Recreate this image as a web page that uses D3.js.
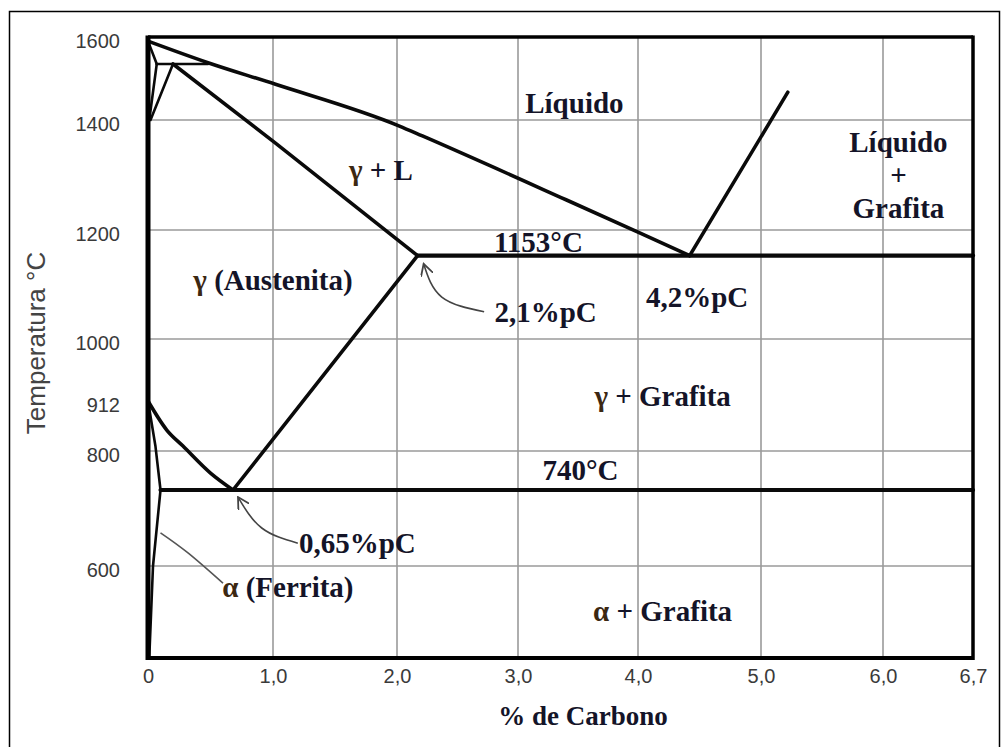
<!DOCTYPE html>
<html>
<head>
<meta charset="utf-8">
<script src="https://cdn.jsdelivr.net/npm/d3@7"></script>
<style>
  body { margin: 0; background: #fff; }
  svg { display: block; }
</style>
</head>
<body>
<div id="chart"></div>
<script>
// Eixos (o desenho original não é uniforme, por isso escalas por partes)
const xBreaks = [0, 1, 2, 3, 4, 5, 6, 6.7];
const xTickLabels = ["0", "1,0", "2,0", "3,0", "4,0", "5,0", "6,0", "6,7"];
const xGrid = [1, 2, 3, 4, 5, 6];
const yBreaks = [440, 600, 740, 800, 912, 1000, 1200, 1400, 1600];
const yTicks = [600, 800, 912, 1000, 1200, 1400, 1600];
const yGrid = [600, 800, 1000, 1200, 1400];

// Linhas do diagrama Fe-C (% C, °C)
const liquidusLeft = [[0, 1590], [0.48, 1538], [1.02, 1486], [2.02, 1389], [2.21, 1371], [3.4, 1255], [4.0, 1196], [4.42, 1153]];
const liquidusRight = [[4.42, 1153], [5.22, 1467]];
const solidusGamma = [[0.2, 1535], [1.02, 1358], [2.17, 1153]];
const peritectic = [[0.07, 1535], [0.48, 1535]];
const deltaSolidus = [[0, 1590], [0.07, 1535]];
const deltaLeft = [[0.07, 1535], [0.01, 1400]];
const deltaRight = [[0.2, 1535], [0.02, 1400]];
const eutectic = [[2.17, 1153], [6.7, 1153]];
const eutectoid = [[0.1, 740], [6.7, 740]];
const a3 = [[0, 912], [0.15, 847], [0.28, 811], [0.5, 766], [0.68, 740]];
const acm = [[0.68, 740], [2.17, 1153]];
const ferriteEdge = [[0, 912], [0.06, 810], [0.1, 740]];
const solvus = [[0.1, 740], [0.04, 600], [0.01, 440]];

// Setas de indicação
const leader21 = [[2.72, 1050], [2.37, 1077], [2.22, 1138]];
const leader065 = [[1.2, 642], [0.91, 670], [0.72, 727]];
const leaderAlpha = [[0.6, 570], [0.32, 624], [0.1, 661]];

// Rótulos das regiões: [texto, % C, °C]
const regionLabels = [
  ["Líquido", 3.47, 1441],
  ["γ + L", 1.87, 1310],
  ["1153°C", 3.17, 1178],
  ["γ (Austenita)", 1.0, 1108],
  ["2,1%pC", 3.23, 1050],
  ["4,2%pC", 4.48, 1077],
  ["Líquido", 6.12, 1360],
  ["+", 6.12, 1300],
  ["Grafita", 6.12, 1240],
  ["γ + Grafita", 4.2, 920],
  ["740°C", 3.52, 771],
  ["α + Grafita", 4.2, 522],
  ["0,65%pC", 1.68, 642],
  ["α (Ferrita)", 1.12, 563]
];

const W = 1008, H = 747;
const x = d3.scaleLinear().domain(xBreaks).range([148, 273, 397, 518, 638, 761, 883, 973]);
const y = d3.scaleLinear().domain(yBreaks).range([658, 566, 490, 451, 401, 339, 230, 120, 37]);

const svg = d3.select("#chart").append("svg")
  .attr("width", W).attr("height", H);

svg.append("rect").attr("width", W).attr("height", H).attr("fill", "#fff");
// moldura externa
svg.append("rect")
  .attr("x", 9.5).attr("y", 11.5).attr("width", 990).attr("height", 740)
  .attr("fill", "none").attr("stroke", "#000").attr("stroke-width", 1.5);

// grade
svg.append("g").selectAll("line").data(xGrid).join("line")
  .attr("x1", d => x(d)).attr("x2", d => x(d))
  .attr("y1", y(1600)).attr("y2", y(440))
  .attr("stroke", "#9a9a9a").attr("stroke-width", 1.6);
svg.append("g").selectAll("line").data(yGrid).join("line")
  .attr("x1", x(0)).attr("x2", x(6.7))
  .attr("y1", d => y(d)).attr("y2", d => y(d))
  .attr("stroke", "#9a9a9a").attr("stroke-width", 1.6);

// linhas de fase
const line = d3.line().x(d => x(d[0])).y(d => y(d[1]));
const smooth = d3.line().x(d => x(d[0])).y(d => y(d[1])).curve(d3.curveMonotoneX);
const phase = svg.append("g").attr("fill", "none").attr("stroke", "#0a0a0a")
  .attr("stroke-linecap", "round").attr("stroke-linejoin", "round");

phase.append("path").attr("d", smooth(liquidusLeft)).attr("stroke-width", 3.6);
[liquidusRight, solidusGamma, acm].forEach(p =>
  phase.append("path").attr("d", line(p)).attr("stroke-width", 3.6));
phase.append("path").attr("d", smooth(a3)).attr("stroke-width", 3.6);
[eutectic, eutectoid].forEach(p =>
  phase.append("path").attr("d", line(p)).attr("stroke-width", 4.2));
[peritectic, deltaSolidus, deltaLeft, deltaRight, ferriteEdge, solvus].forEach(p =>
  phase.append("path").attr("d", line(p)).attr("stroke-width", 2.6));

// setas
const defs = svg.append("defs");
defs.append("marker").attr("id", "arrow")
  .attr("viewBox", "0 0 10 10").attr("refX", 9).attr("refY", 5)
  .attr("markerWidth", 8).attr("markerHeight", 8).attr("orient", "auto")
  .append("path").attr("d", "M0,0 L9,5 L0,10").attr("fill", "none")
  .attr("stroke", "#444").attr("stroke-width", 1.4);

const curved = d3.line().x(d => x(d[0])).y(d => y(d[1])).curve(d3.curveNatural);
[leader21, leader065].forEach(p =>
  svg.append("path").attr("d", curved(p)).attr("fill", "none")
    .attr("stroke", "#444").attr("stroke-width", 1.6)
    .attr("marker-end", "url(#arrow)"));
svg.append("path").attr("d", curved(leaderAlpha)).attr("fill", "none")
  .attr("stroke", "#555").attr("stroke-width", 1.6);

// bordas do gráfico
const frame = svg.append("g").attr("stroke", "#000").attr("fill", "none");
frame.append("line").attr("x1", x(0)).attr("x2", x(6.7)).attr("y1", y(1600)).attr("y2", y(1600)).attr("stroke-width", 3.5);
frame.append("line").attr("x1", x(0)).attr("x2", x(6.7)).attr("y1", y(440)).attr("y2", y(440)).attr("stroke-width", 4);
frame.append("line").attr("x1", x(6.7)).attr("x2", x(6.7)).attr("y1", y(1600) - 1.5).attr("y2", y(440) + 2).attr("stroke-width", 3.5);
frame.append("line").attr("x1", x(0)).attr("x2", x(0)).attr("y1", y(1600) - 1.5).attr("y2", y(440) + 2).attr("stroke-width", 5);

// eixos
const tickFont = "'Liberation Sans', Arial, sans-serif";
const xAxis = svg.append("g").attr("transform", `translate(0,${y(440)})`)
  .call(d3.axisBottom(x).tickValues(xBreaks).tickSize(0).tickPadding(11)
    .tickFormat((d, i) => xTickLabels[i]));
const yAxis = svg.append("g").attr("transform", `translate(${x(0)},0)`)
  .call(d3.axisLeft(y).tickValues(yTicks).tickSize(0).tickPadding(28)
    .tickFormat(d3.format("d")));
[xAxis, yAxis].forEach(a => {
  a.select(".domain").remove();
  a.selectAll("text").attr("font-family", tickFont).attr("font-size", 20)
    .attr("fill", "#3a3a3a");
});
yAxis.selectAll("text").attr("transform", "translate(0,4)");

svg.append("text")
  .attr("transform", `translate(36,343) rotate(-90)`)
  .attr("text-anchor", "middle").attr("dy", "0.35em")
  .attr("font-family", tickFont).attr("font-size", 26).attr("fill", "#444")
  .text("Temperatura °C");

svg.append("text")
  .attr("x", (x(3) + x(4)) / 2 + 5).attr("y", 725)
  .attr("text-anchor", "middle")
  .attr("font-family", "'Liberation Serif', 'Times New Roman', serif")
  .attr("font-weight", "bold").attr("font-size", 27).attr("fill", "#141428")
  .text("% de Carbono");

// rótulos
const labels = svg.append("g")
  .attr("font-family", "'Liberation Serif', 'Times New Roman', serif")
  .attr("font-weight", "bold").attr("font-size", 29).attr("fill", "#141428")
  .attr("text-anchor", "middle");
regionLabels.forEach(([t, cx, cy]) => {
  const el = labels.append("text").attr("x", x(cx)).attr("y", y(cy)).attr("dy", "0.35em");
  const first = t[0];
  if (first === "γ" || first === "α") {
    el.append("tspan").attr("fill", "#3c2812").text(first);
    el.append("tspan").text(t.slice(1));
  } else {
    el.text(t);
  }
});
</script>
</body>
</html>
